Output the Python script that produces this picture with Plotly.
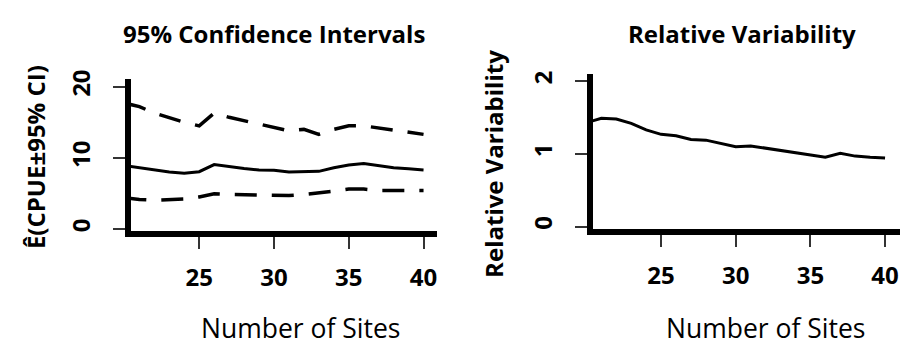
import plotly.graph_objects as go

W, H = 906, 345

sites = list(range(20, 41))
ci_mean = [8.9, 8.6, 8.3, 8.0, 7.85, 8.05, 9.05, 8.75, 8.5, 8.3, 8.25, 8.0, 8.05, 8.1, 8.6, 9.0, 9.2, 8.85, 8.6, 8.45, 8.3]
ci_upper = [17.7, 17.2, 16.3, 15.6, 15.0, 14.5, 16.3, 15.7, 15.2, 14.7, 14.2, 13.8, 14.0, 13.3, 14.0, 14.5, 14.5, 14.2, 13.9, 13.6, 13.3]
ci_lower = [4.4, 4.15, 4.05, 4.1, 4.2, 4.5, 4.95, 4.85, 4.8, 4.8, 4.8, 4.7, 4.85, 5.05, 5.3, 5.6, 5.6, 5.4, 5.4, 5.45, 5.4]
rel_var = [1.43, 1.49, 1.48, 1.42, 1.33, 1.27, 1.25, 1.20, 1.19, 1.15, 1.10, 1.11, 1.08, 1.045, 1.02, 0.99, 0.955, 1.01, 0.97, 0.955, 0.945]

x_ticks = [25, 30, 35, 40]
y_ticks_ci = [0, 10, 20]
y_ticks_rv = [0, 1, 2]

FONT = "Open Sans"

def px(x):
    return x / W

def py(y):
    return 1 - y / H

fig = go.Figure()

dash = "22px,15px"
fig.add_trace(go.Scatter(x=sites, y=ci_upper, mode="lines", line=dict(color="black", width=3.5, dash=dash), xaxis="x", yaxis="y"))
fig.add_trace(go.Scatter(x=sites, y=ci_mean, mode="lines", line=dict(color="black", width=3), xaxis="x", yaxis="y"))
fig.add_trace(go.Scatter(x=sites, y=ci_lower, mode="lines", line=dict(color="black", width=3.5, dash=dash), xaxis="x", yaxis="y"))
fig.add_trace(go.Scatter(x=sites, y=rel_var, mode="lines", line=dict(color="black", width=3), xaxis="x2", yaxis="y2"))

axis_common = dict(
    showline=True, linewidth=6, linecolor="black",
    ticks="outside", ticklen=12, tickwidth=2, tickcolor="#333",
    showgrid=False, zeroline=False,
    tickfont=dict(family=FONT, size=24, color="black", weight="bold"),
)

fig.update_layout(
    width=W, height=H,
    margin=dict(l=0, r=0, t=0, b=0),
    paper_bgcolor="white", plot_bgcolor="white",
    showlegend=False,
    xaxis=dict(domain=[px(131), px(437)], range=[20.44, 40.9], tickvals=x_ticks,
               anchor="y", ticklabelstandoff=8, **axis_common),
    yaxis=dict(domain=[py(229), py(72)], range=[-0.34, 21.1], tickvals=y_ticks_ci,
               anchor="x", tickangle=-90, ticklabelstandoff=13, **axis_common),
    xaxis2=dict(domain=[px(593), px(900)], range=[20.44, 41.0], tickvals=x_ticks,
                anchor="y2", ticklabelstandoff=8, **axis_common),
    yaxis2=dict(domain=[py(227), py(67)], range=[-0.04, 2.10], tickvals=y_ticks_rv,
                anchor="x2", tickangle=-90, ticklabelstandoff=13, **axis_common),
)

def ann(text, x, y, size, bold=True, angle=0):
    fig.add_annotation(
        text=text, x=px(x), y=py(y), xref="paper", yref="paper",
        showarrow=False, xanchor="center", yanchor="middle", textangle=angle,
        font=dict(family=FONT, size=size, color="black", weight="bold" if bold else "normal"),
    )

ann("95% Confidence Intervals", 273.5, 25, 24)
ann("Relative Variability", 741.5, 25, 24)
ann("Ê(CPUE±95% CI)", 35, 152.5, 24, angle=-90)
ann("Relative Variability", 494, 159.5, 24, angle=-90)
ann("Number of Sites", 300, 329, 26.5, bold=False)
ann("Number of Sites", 765, 329, 26.5, bold=False)

fig.write_html("out.html")
